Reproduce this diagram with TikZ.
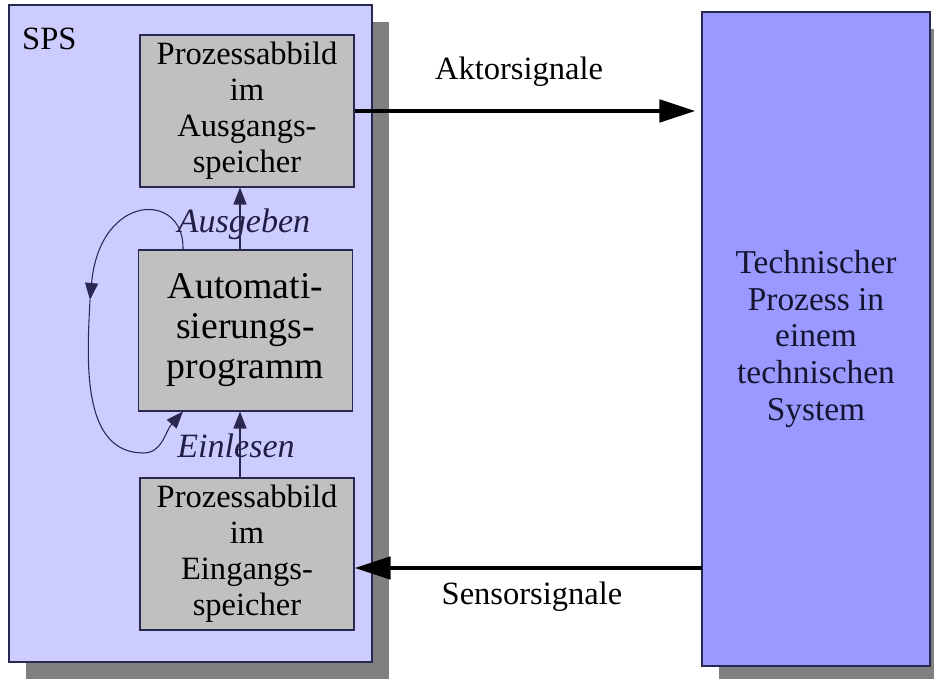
\documentclass[tikz,border=0pt]{standalone}
\usepackage{fontspec}
\setmainfont{Liberation Serif}
\usetikzlibrary{arrows.meta,positioning,shadows}
\definecolor{spsbg}{RGB}{204,204,255}
\definecolor{procbg}{RGB}{153,153,255}
\definecolor{membg}{RGB}{192,192,192}
\definecolor{edge}{RGB}{40,40,80}
\definecolor{shade}{RGB}{128,128,128}
\definecolor{lbl}{RGB}{30,30,70}

\begin{document}
\begin{tikzpicture}[
    sysbox/.style={draw=edge, line width=0.6pt, drop shadow={shadow xshift=0.34cm, shadow yshift=-0.34cm, fill=shade, opacity=1}},
    membox/.style={draw=edge, fill=membg, line width=0.6pt, minimum width=4.28cm, minimum height=3.04cm, align=center, inner sep=0pt, font=\fontsize{18.5}{20.5}\selectfont},
    sig/.style={-{Triangle[length=0.72cm,width=0.44cm]}, line width=2.8pt, black},
    flow/.style={-{Triangle[length=0.34cm,width=0.26cm]}, line width=0.6pt, edge},
    txt/.style={font=\fontsize{18.5}{20.5}\selectfont, anchor=base},
    it/.style={font=\fontsize{19.4}{21}\selectfont\itshape, text=lbl, anchor=base},
]
\useasboundingbox (0,0) rectangle (18.68,13.58);

% Left: SPS with its memories
\node[sysbox, fill=spsbg, minimum width=7.26cm, minimum height=13.14cm] (sps) at (3.81,6.91) {};
\node[txt, anchor=base west] (spslbl) at (0.32,12.58) {SPS};
\node[membox] (aout) at (4.94,11.36) {Prozessabbild\\im\\Ausgangs-\\speicher};
\node[membox, minimum height=3.22cm, font=\fontsize{21.5}{22.8}\selectfont] (prog) at (4.91,6.97) {Automati-\\sierungs-\\programm};
\node[membox] (ain) at (4.94,2.5) {Prozessabbild\\im\\Eingangs-\\speicher};

% Right: technical process
\node[sysbox, fill=procbg, minimum width=4.56cm, minimum height=13.08cm, align=center, text=lbl!70!black, font=\fontsize{19}{21}\selectfont] (proc) at (16.32,6.8) {Technischer\\Prozess in\\einem\\technischen\\System};

% Labels
\node[txt] (akt) at (10.38,11.98) {Aktorsignale};
\node[txt] (sen) at (10.64,1.48) {Sensorsignale};
\node[it] (ausg) at (4.88,8.92) {Ausgeben};
\node[it] (einl) at (4.72,4.42) {Einlesen};

% Arrows
\draw[flow] ([xshift=-0.11cm]prog.north) -- ([xshift=-0.11cm]prog.north |- aout.south);
\draw[flow] ([xshift=-0.14cm]ain.north) -- ([xshift=-0.14cm]ain.north |- prog.south);
\coordinate (ltop) at (1.80,7.58);
\draw[flow] ([xshift=-1.25cm]prog.north) .. controls (3.7,9.75) and (2.0,9.75) .. (ltop);
\draw[flow] (ltop) .. controls (1.74,6.4) and (1.62,4.55) .. (2.84,4.52) .. controls (3.25,4.5) and (3.3,4.95) .. ([xshift=-1.25cm]prog.south);
\draw[sig, shorten >=0.12cm] (aout.east) -- (aout.east -| proc.west);
\coordinate (sin) at (14.04,2.22);
\draw[sig] (sin) -- (sin -| ain.east);
\end{tikzpicture}
\end{document}
